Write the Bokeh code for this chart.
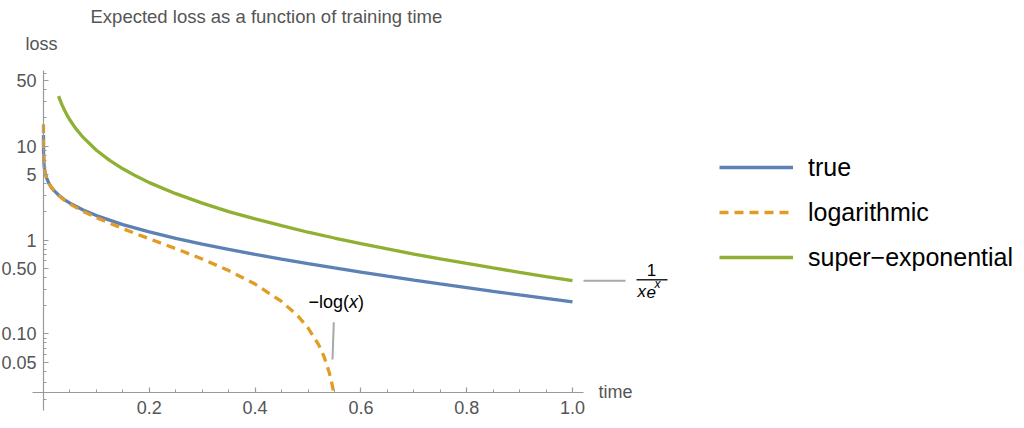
import numpy as np
from bokeh.plotting import figure
from bokeh.models import FixedTicker, Label, Legend, LegendItem, CustomJSTickFormatter
from bokeh.embed import file_html
from bokeh.resources import INLINE

# ---------------- data ----------------
title_text = "Expected loss as a function of training time"
x_label = "time"
y_label = "loss"
series_names = ["true", "logarithmic", "super\u2212exponential"]

true_x = [1e-6, 1e-5, 1e-4, 0.001, 0.0015, 0.003, 0.006, 0.01, 0.015, 0.02, 0.03, 0.04,
          0.05, 0.075, 0.1, 0.15, 0.2, 0.25, 0.3, 0.35, 0.4, 0.45, 0.5, 0.55, 0.6,
          0.65, 0.7, 0.75, 0.8, 0.85, 0.9, 0.95, 1.0]
true_y = [13.2, 10.9, 8.63, 6.33, 5.93, 5.24, 4.55, 4.04, 3.64, 3.36, 2.96, 2.68,
          2.47, 2.09, 1.82, 1.46, 1.22, 1.04, 0.906, 0.794, 0.702, 0.625, 0.560, 0.503, 0.454,
          0.412, 0.374, 0.340, 0.311, 0.284, 0.260, 0.239, 0.219]

log_x = [2e-8, 1e-6, 1e-4, 0.001, 0.0015, 0.003, 0.006, 0.01, 0.015, 0.02, 0.03, 0.04,
         0.05, 0.075, 0.1, 0.15, 0.2, 0.25, 0.3, 0.35, 0.4, 0.45, 0.48, 0.5, 0.52,
         0.53, 0.54, 0.545, 0.548]
log_y = [17.15, 13.24, 8.63, 6.33, 5.93, 5.23, 4.54, 4.03, 3.62, 3.34, 2.93, 2.64,
         2.42, 2.01, 1.73, 1.32, 1.03, 0.809, 0.627, 0.472, 0.339, 0.221, 0.157, 0.116, 0.0767,
         0.0577, 0.0390, 0.0298, 0.0245]

sup_x = [0.0284, 0.035, 0.04, 0.045, 0.05, 0.06, 0.075, 0.1, 0.125, 0.15, 0.175, 0.2,
         0.25, 0.3, 0.35, 0.4, 0.45, 0.5, 0.55, 0.6, 0.65, 0.7, 0.75, 0.8, 0.85, 0.9,
         0.95, 1.0]
sup_y = [34.2, 27.6, 24.0, 21.2, 19.0, 15.7, 12.4, 9.05, 7.06, 5.74, 4.80, 4.09,
         3.12, 2.47, 2.01, 1.68, 1.42, 1.21, 1.05, 0.915, 0.803, 0.709, 0.630, 0.562, 0.503, 0.452,
         0.407, 0.368]

x_major = [0.2, 0.4, 0.6, 0.8, 1.0]
x_major_labels = ["0.2", "0.4", "0.6", "0.8", "1.0"]
x_minor = [0.05, 0.1, 0.15, 0.25, 0.3, 0.35, 0.45, 0.5, 0.55, 0.65, 0.7, 0.75, 0.85, 0.9, 0.95]
y_major = [0.05, 0.1, 0.5, 1, 5, 10, 50]
y_major_labels = ["0.05", "0.10", "0.50", "1", "5", "10", "50"]
y_minor = [0.02, 0.03, 0.04, 0.06, 0.07, 0.08, 0.09, 0.2, 0.3, 0.4, 0.6, 0.7, 0.8, 0.9,
           2, 3, 4, 6, 7, 8, 9, 20, 30, 40, 60]

# ---------------- layout / style ----------------
W, H = 1024, 428
X0_PX = 43.0             # picture px of x = 0
PX_PER_X = 529.0
Y1_PX = 239.5            # picture px of y = 1
PX_PER_DEC = 93.8

BLUE = "#5E81B5"
ORANGE = "#E19C24"
GREEN = "#8FB032"
AXIS = "#9a9a9a"
LABEL = "#555555"
FONT = "Liberation Sans"


def dx(px):
    return (px - X0_PX) / PX_PER_X


def dy(py):
    return 10 ** ((Y1_PX - py) / PX_PER_DEC)


p = figure(width=W, height=H, x_range=(dx(0), dx(W)), y_range=(dy(H), dy(0)),
           y_axis_type="log", output_backend="svg", toolbar_location=None,
           min_border=0, min_border_left=0, min_border_right=0,
           min_border_top=0, min_border_bottom=0)
p.grid.visible = False
p.outline_line_color = None
p.background_fill_color = "white"


def fmt(tick_values, tick_labels):
    return CustomJSTickFormatter(args=dict(tv=tick_values, tl=tick_labels), code="""
        for (let i = 0; i < tv.length; i++) {
            if (Math.abs(tv[i] - tick) <= 1e-9 * Math.max(1, Math.abs(tv[i]))) return tl[i];
        }
        return "";
    """)


xa = p.xaxis[0]
ya = p.yaxis[0]
xa.fixed_location = dy(392.3)
ya.fixed_location = 0
xa.bounds = (dx(32), dx(583))
ya.bounds = (dy(410), dy(70))
xa.ticker = FixedTicker(ticks=x_major, minor_ticks=x_minor)
ya.ticker = FixedTicker(ticks=y_major, minor_ticks=y_minor)
xa.formatter = fmt(x_major, x_major_labels)
ya.formatter = fmt(y_major, y_major_labels)
for ax, fs, so in ((xa, "18px", 8), (ya, "18px", 7)):
    ax.axis_line_color = AXIS
    ax.axis_line_width = 1.2
    ax.major_tick_line_color = AXIS
    ax.minor_tick_line_color = AXIS
    ax.major_tick_line_width = 1.2
    ax.minor_tick_line_width = 1.0
    ax.major_tick_in = 5
    ax.major_tick_out = 0
    ax.minor_tick_in = 3
    ax.minor_tick_out = 0
    ax.major_label_text_font = FONT
    ax.major_label_text_font_size = fs
    ax.major_label_text_color = LABEL
    ax.major_label_standoff = so

r_true = p.line(true_x, true_y, line_color=BLUE, line_width=3.3)
r_log = p.line(log_x, log_y, line_color=ORANGE, line_width=3.3, line_dash="9 6")
r_sup = p.line(sup_x, sup_y, line_color=GREEN, line_width=3.3)

# callout lines
p.segment(x0=[dx(333.3)], y0=[dy(321.7)], x1=[dx(332)], y1=[dy(359)],
          line_color="#a8a8a8", line_width=2)
p.segment(x0=[dx(583)], y0=[sup_y[-1]], x1=[dx(625)], y1=[sup_y[-1]],
          line_color="#a8a8a8", line_width=2)


def lab(text, px, py, size, color="black", style="normal", align="left"):
    # py is the wanted baseline in picture px; rendered text sits ~0.38em lower
    off = 0.38 * size
    p.add_layout(Label(x=px, y=H - (py - off), x_units="screen", y_units="screen", text=text,
                       text_font=FONT, text_font_size="%gpx" % size, text_color=color,
                       text_font_style=style, text_align=align, text_baseline="alphabetic"))


# title and axis labels
lab(title_text, 90, 22.7, 18.5, color=LABEL)
lab(y_label, 25, 50.7, 18, color=LABEL)
lab(x_label, 598, 398.3, 18, color=LABEL)

# -log(x) annotation
lab("\u2212log(", 308, 308.3, 18)
lab("x", 348.5, 308.3, 18, style="italic")
lab(")", 357.5, 308.3, 18)

# 1/(x e^x) annotation
lab("1", 651, 275.5, 17, align="center")
p.segment(x0=[dx(636)], y0=[dy(279.3)], x1=[dx(667)], y1=[dy(279.3)],
          line_color="black", line_width=1.3)
lab("x", 637, 297.5, 17, style="italic")
lab("e", 646, 297.5, 17, style="italic")
lab("x", 654, 288.5, 12, style="italic")

legend = Legend(items=[LegendItem(label=series_names[0], renderers=[r_true]),
                       LegendItem(label=series_names[1], renderers=[r_log]),
                       LegendItem(label=series_names[2], renderers=[r_sup])],
                location=(719, H - 272), orientation="vertical",
                glyph_width=74, glyph_height=30, label_height=30, label_standoff=15,
                spacing=15, padding=0, margin=0, border_line_color=None,
                background_fill_alpha=0, label_text_font=FONT,
                label_text_font_size="25px", label_text_color="black")
p.add_layout(legend)

open("out.html", "w").write(file_html(p, INLINE))
